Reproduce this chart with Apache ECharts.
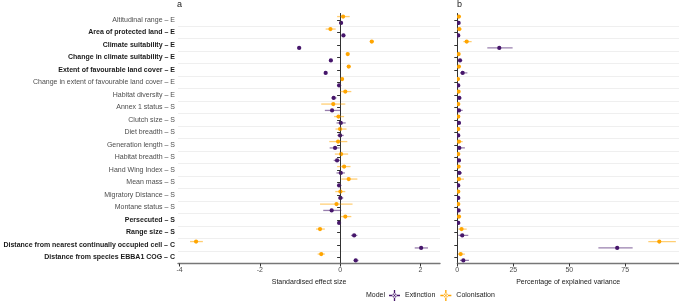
<!DOCTYPE html>
<html>
<head>
<meta charset="utf-8">
<script src="https://cdn.jsdelivr.net/npm/echarts@6/dist/echarts.min.js"></script>
<style>
  html, body { margin: 0; padding: 0; background: #fff; }
  #main { width: 679px; height: 301px; }
</style>
</head>
<body>
<div id="main"></div>
<script>
// predictors, top to bottom
var categories = [
    'Altitudinal range – E', 'Area of protected land – E', 'Climate suitability – E',
    'Change in climate suitability – E', 'Extent of favourable land cover – E',
    'Change in extent of favourable land cover – E', 'Habitat diversity – E',
    'Annex 1 status – S', 'Clutch size – S', 'Diet breadth – S', 'Generation length – S',
    'Habitat breadth – S', 'Hand Wing Index – S', 'Mean mass – S', 'Migratory Distance – S',
    'Montane status – S', 'Persecuted – S', 'Range size – S',
    'Distance from nearest continually occupied cell – C', 'Distance from species EBBA1 COG – C'
];
var boldCats = [
    'Area of protected land – E', 'Climate suitability – E', 'Change in climate suitability – E',
    'Extent of favourable land cover – E', 'Persecuted – S', 'Range size – S',
    'Distance from nearest continually occupied cell – C', 'Distance from species EBBA1 COG – C'
];

// a: standardised effect size
var effExt   = [0.025, 0.083, -1.02, -0.23, -0.36, -0.025, -0.16, -0.2, 0.017, 0, -0.125, -0.075, 0.017, -0.025, 0.008, -0.21, -0.025, 0.35, 2.02, 0.39];
var effExtLo = [-0.02, 0.04, -1.07, -0.27, -0.4, -0.06, -0.215, -0.38, -0.09, -0.07, -0.26, -0.16, -0.09, -0.07, -0.05, -0.42, -0.06, 0.27, 1.86, 0.33];
var effExtHi = [0.07, 0.13, -0.97, -0.19, -0.32, 0.01, -0.09, 0.02, 0.14, 0.09, -0.01, 0.01, 0.12, 0.03, 0.08, 0.03, 0.02, 0.43, 2.19, 0.46];
var effCol   = [0.075, -0.24, 0.79, 0.19, 0.215, 0.05, 0.13, -0.17, -0.04, 0, -0.05, 0.025, 0.1, 0.215, 0.008, -0.09, 0.13, -0.5, -3.59, -0.47];
var effColLo = [-0.075, -0.36, 0.74, 0.15, 0.17, 0.01, 0, -0.47, -0.15, -0.115, -0.27, -0.13, -0.075, 0.03, -0.12, -0.5, 0.017, -0.6, -3.74, -0.56];
var effColHi = [0.24, -0.11, 0.84, 0.23, 0.26, 0.09, 0.28, 0.13, 0.1, 0.16, 0.18, 0.2, 0.26, 0.43, 0.13, 0.31, 0.28, -0.38, -3.42, -0.38];

// b: percentage of explained variance
var varExt   = [0.6, 0.45, 18.75, 1.2, 2.4, 0.45, 0.9, 0.75, 0.75, 0.45, 0.9, 0.75, 0.9, 0.45, 0.45, 0.6, 0.45, 2.2, 71.4, 2.7];
var varExtLo = [0.2, 0.1, 13.4, 0.5, 1.2, 0.1, 0.2, 0, 0.1, 0.1, 0, 0.1, 0.1, 0.1, 0.1, 0.1, 0.1, 0.45, 63, 1.2];
var varExtHi = [1.1, 0.9, 24.7, 2.2, 4.5, 0.9, 1.8, 2.4, 1.6, 0.9, 3.4, 1.6, 2.1, 0.9, 0.9, 1.2, 0.9, 4.9, 78.3, 5.2];
var varCol   = [0.7, 0.9, 4.2, 0.6, 0.7, 0.3, 0.6, 0.45, 0.45, 0.45, 0.75, 0.45, 0.6, 0.75, 0.45, 0.45, 0.75, 1.9, 90.2, 1.5];
var varColLo = [0, 0.1, 2.7, 0.1, 0.1, 0, 0.1, 0, 0, 0, 0, 0, 0, 0, 0, 0, 0.1, 0.45, 85.3, 0.3];
var varColHi = [1.6, 1.9, 6.4, 1.2, 1.4, 0.7, 1.2, 1.2, 1.1, 1.1, 2.4, 1.1, 1.3, 3.0, 1.0, 1.0, 1.6, 4.2, 97.6, 3.4];

var effTicks = [-4, -2, 0, 2];
var varTicks = [0, 25, 50, 75];

var PURPLE = '#46166b';
var ORANGE = '#ffa500';
var FONT = '"Liberation Sans", Arial, sans-serif';
var ICON = 'path://M4.4,0h1.2v10h-1.2z M0,4.4h10v1.2h-10z M5,3a2,2 0 1,0 0.01,0z';

function rows(est, lo, hi) {
    var out = [];
    for (var i = 0; i < est.length; i++) {
        out.push([est[i], lo[i], hi[i], categories[i]]);
    }
    return out;
}

// point + interval, dodged up (colonisation) or down (extinction) inside the row
function makeRender(color, side) {
    return function (params, api) {
        var band = api.size([0, 1])[1];
        var dy = side * band * 0.255;
        var cat = api.value(3);
        var p = api.coord([api.value(0), cat]);
        var a = api.coord([api.value(1), cat]);
        var b = api.coord([api.value(2), cat]);
        var y = p[1] + dy;
        return {
            type: 'group',
            children: [
                { type: 'line', shape: { x1: a[0], y1: y, x2: b[0], y2: y },
                  style: { stroke: color, lineWidth: 1.3, opacity: 0.55 } },
                { type: 'circle', shape: { cx: p[0], cy: y, r: 2.1 },
                  style: { fill: color } }
            ]
        };
    };
}

function yAxisFor(gridIndex, showLabels) {
    return {
        type: 'category', gridIndex: gridIndex, data: categories, inverse: true,
        axisLine: { show: true, lineStyle: { color: '#333', width: 1 } },
        axisTick: { show: true, length: 3, alignWithLabel: true, lineStyle: { color: '#333' } },
        splitLine: { show: true, interval: function (i) { return i > 0; },
                     lineStyle: { color: '#ebebeb', width: 0.8 } },
        axisLabel: {
            show: showLabels, margin: 3, fontSize: 7, fontFamily: FONT,
            formatter: function (v) {
                return boldCats.indexOf(v) >= 0 ? '{b|' + v + '}' : '{n|' + v + '}';
            },
            rich: {
                b: { fontSize: 7, fontWeight: 'bold', color: '#1a1a1a', fontFamily: FONT },
                n: { fontSize: 7, color: '#4d4d4d', fontFamily: FONT }
            }
        }
    };
}

function xAxisFor(gridIndex, min, max, ticks, name) {
    return {
        type: 'value', gridIndex: gridIndex, min: min, max: max,
        name: name, nameLocation: 'middle', nameGap: 14,
        nameTextStyle: { fontSize: 7, color: '#1a1a1a', fontFamily: FONT },
        axisLine: { show: true, onZero: false, lineStyle: { color: '#777', width: 1.4 } },
        axisTick: { show: true, length: 3, customValues: ticks, lineStyle: { color: '#333' } },
        axisLabel: { margin: 3, fontSize: 7, color: '#4d4d4d', fontFamily: FONT, customValues: ticks },
        splitLine: { show: false }
    };
}

var myChart = echarts.init(document.getElementById('main'), null, { renderer: 'canvas' });

var option = {
    animation: false,
    backgroundColor: '#fff',
    grid: [
        { left: 178, top: 13.5, width: 262, height: 250 },
        { left: 457.3, top: 13.5, width: 221.7, height: 250 }
    ],
    xAxis: [
        xAxisFor(0, -4.04, 2.49, effTicks, 'Standardised effect size'),
        xAxisFor(1, 0, 99, varTicks, 'Percentage of explained variance')
    ],
    yAxis: [yAxisFor(0, true), yAxisFor(1, false)],
    legend: {
        left: 389, top: 290, padding: 0, itemWidth: 11, itemHeight: 11, itemGap: 5,
        textStyle: { fontSize: 7, color: '#1a1a1a', fontFamily: FONT },
        data: [
            { name: 'Extinction', icon: ICON },
            { name: 'Colonisation', icon: ICON }
        ]
    },
    graphic: [
        { type: 'text', left: 177, top: 0, style: { text: 'a', fontSize: 9, fill: '#1a1a1a', fontFamily: FONT } },
        { type: 'text', left: 457, top: 0, style: { text: 'b', fontSize: 9, fill: '#1a1a1a', fontFamily: FONT } },
        { type: 'text', left: 366, top: 292, style: { text: 'Model', fontSize: 7, fill: '#1a1a1a', fontFamily: FONT } }
    ],
    series: [
        {
            // dotted zero line in panel a
            type: 'line', name: 'zero', xAxisIndex: 0, yAxisIndex: 0,
            data: [], silent: true,
            markLine: {
                silent: true, symbol: 'none', label: { show: false },
                lineStyle: { type: 'dotted', color: '#333', width: 1 },
                data: [{ xAxis: 0 }]
            }
        },
        {
            type: 'custom', name: 'Colonisation', xAxisIndex: 0, yAxisIndex: 0,
            itemStyle: { color: ORANGE },
            renderItem: makeRender(ORANGE, -1),
            encode: { x: 0, y: 3 },
            data: rows(effCol, effColLo, effColHi),
            z: 3
        },
        {
            type: 'custom', name: 'Extinction', xAxisIndex: 0, yAxisIndex: 0,
            itemStyle: { color: PURPLE },
            renderItem: makeRender(PURPLE, 1),
            encode: { x: 0, y: 3 },
            data: rows(effExt, effExtLo, effExtHi),
            z: 3
        },
        {
            type: 'custom', name: 'Colonisation', xAxisIndex: 1, yAxisIndex: 1,
            itemStyle: { color: ORANGE },
            renderItem: makeRender(ORANGE, -1),
            encode: { x: 0, y: 3 },
            data: rows(varCol, varColLo, varColHi),
            clip: true, z: 3
        },
        {
            type: 'custom', name: 'Extinction', xAxisIndex: 1, yAxisIndex: 1,
            itemStyle: { color: PURPLE },
            renderItem: makeRender(PURPLE, 1),
            encode: { x: 0, y: 3 },
            data: rows(varExt, varExtLo, varExtHi),
            clip: true, z: 3
        }
    ]
};

myChart.setOption(option);
</script>
</body>
</html>
